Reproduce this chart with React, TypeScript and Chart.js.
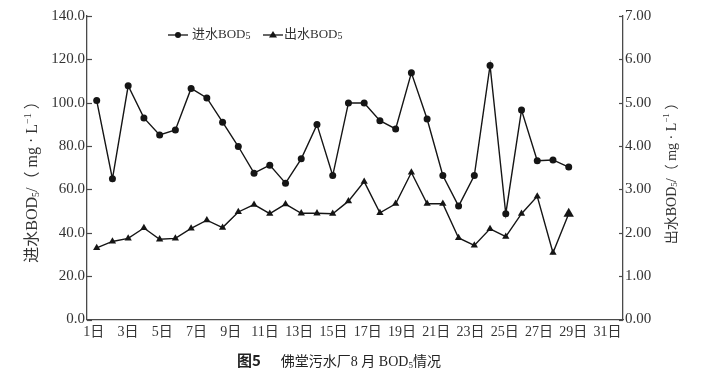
import React, { useEffect, useRef } from "react";
import { Chart, registerables } from "chart.js";

Chart.register(...registerables);

// ---- data ----
const days = [1, 2, 3, 4, 5, 6, 7, 8, 9, 10, 11, 12, 13, 14, 15, 16, 17, 18, 19, 20, 21, 22, 23, 24, 25, 26, 27, 28, 29, 30, 31];
const inflowBOD = [101.0, 64.9, 107.8, 93.0, 85.1, 87.4, 106.6, 102.2, 91.0, 79.8, 67.5, 71.2, 62.9, 74.1, 89.9, 66.4, 99.9, 99.9, 91.7, 87.9, 113.8, 92.5, 66.4, 52.3, 66.4, 117.2, 48.8, 96.6, 73.2, 73.6, 70.3];
const outflowBOD = [1.65, 1.80, 1.87, 2.11, 1.85, 1.87, 2.10, 2.29, 2.12, 2.48, 2.65, 2.44, 2.66, 2.45, 2.45, 2.44, 2.73, 3.18, 2.46, 2.67, 3.39, 2.67, 2.67, 1.88, 1.71, 2.09, 1.91, 2.44, 2.84, 1.54, 2.44];
const dayTickLabels = [1, 3, 5, 7, 9, 11, 13, 15, 17, 19, 21, 23, 25, 27, 29, 31];
const seriesNames = ["进水BOD", "出水BOD"];

const SERIF = "'Liberation Serif', 'Noto Sans CJK SC', serif";
const AXIS = "#4a4a4a";
const TEXT = "#333333";
const LINE = "#151515";

type Run = { t: string; size: number; dy?: number };

function drawRuns(ctx: CanvasRenderingContext2D, runs: Run[], x: number, y: number, align: "left" | "center") {
  let total = 0;
  const widths = runs.map((r) => {
    ctx.font = `${r.size}px ${SERIF}`;
    const w = ctx.measureText(r.t).width;
    total += w;
    return w;
  });
  let cx = align === "center" ? x - total / 2 : x;
  ctx.textBaseline = "middle";
  ctx.textAlign = "left";
  runs.forEach((r, i) => {
    ctx.font = `${r.size}px ${SERIF}`;
    ctx.fillText(r.t, cx, y + (r.dy || 0));
    cx += widths[i];
  });
}

export default function App() {
  const ref = useRef<HTMLCanvasElement>(null);

  useEffect(() => {
    document.body.style.margin = "0";
    const canvas = ref.current;
    if (!canvas) return;

    const decorations = {
      id: "decorations",
      afterDraw(chart: any) {
        const { ctx, chartArea } = chart;
        ctx.save();
        // inward tick marks
        ctx.strokeStyle = AXIS;
        ctx.lineWidth = 1.2;
        const yl = chart.scales.y;
        yl.ticks.forEach((t: any) => {
          const py = Math.round(yl.getPixelForValue(t.value)) + 0.5;
          ctx.beginPath();
          ctx.moveTo(chartArea.left, py);
          ctx.lineTo(chartArea.left + 5, py);
          ctx.stroke();
        });
        const yr = chart.scales.y1;
        yr.ticks.forEach((t: any) => {
          const py = Math.round(yr.getPixelForValue(t.value)) + 0.5;
          ctx.beginPath();
          ctx.moveTo(chartArea.right - 4, py);
          ctx.lineTo(chartArea.right, py);
          ctx.stroke();
        });

        // axis titles (rotated, reading bottom to top)
        ctx.fillStyle = TEXT;
        ctx.save();
        ctx.translate(33, 178);
        ctx.rotate(-Math.PI / 2);
        drawRuns(ctx, [
          { t: "进水BOD", size: 16 },
          { t: "5", size: 10, dy: 3 },
          { t: "/（ mg · L", size: 16 },
          { t: "−1", size: 10, dy: -5 },
          { t: " ）", size: 16 },
        ], 0, 0, "center");
        ctx.restore();

        ctx.save();
        ctx.translate(672, 170);
        ctx.rotate(-Math.PI / 2);
        drawRuns(ctx, [
          { t: "出水BOD", size: 14 },
          { t: "5", size: 9, dy: 3 },
          { t: "/（ mg · L", size: 14 },
          { t: "−1", size: 9, dy: -5 },
          { t: " ）", size: 14 },
        ], 0, 0, "center");
        ctx.restore();

        // legend
        const ly = 35;
        ctx.strokeStyle = LINE;
        ctx.fillStyle = LINE;
        ctx.lineWidth = 1.3;
        ctx.beginPath();
        ctx.moveTo(168, ly);
        ctx.lineTo(188, ly);
        ctx.stroke();
        ctx.beginPath();
        ctx.arc(178, ly, 3, 0, Math.PI * 2);
        ctx.fill();
        ctx.fillStyle = TEXT;
        drawRuns(ctx, [{ t: seriesNames[0], size: 13 }, { t: "5", size: 10, dy: 1 }], 192, ly, "left");

        ctx.strokeStyle = LINE;
        ctx.fillStyle = LINE;
        ctx.beginPath();
        ctx.moveTo(263, ly);
        ctx.lineTo(283, ly);
        ctx.stroke();
        ctx.beginPath();
        ctx.moveTo(273, ly - 4);
        ctx.lineTo(277, ly + 2.5);
        ctx.lineTo(269, ly + 2.5);
        ctx.closePath();
        ctx.fill();
        ctx.fillStyle = TEXT;
        drawRuns(ctx, [{ t: seriesNames[1], size: 13 }, { t: "5", size: 10, dy: 1 }], 284, ly, "left");
        ctx.restore();
      },
    };

    const tickFont = { family: SERIF, size: 15 };

    const chart = new Chart(canvas, {
      type: "line",
      data: {
        datasets: [
          {
            label: seriesNames[0] + "5",
            data: days.map((d, i) => ({ x: d, y: inflowBOD[i] })),
            xAxisID: "x",
            yAxisID: "y",
            borderColor: LINE,
            backgroundColor: LINE,
            borderWidth: 1.4,
            pointStyle: "circle",
            pointRadius: 3.5,
            pointBorderWidth: 0,
            tension: 0,
          },
          {
            label: seriesNames[1] + "5",
            data: days.map((d, i) => ({ x: d, y: outflowBOD[i] })),
            xAxisID: "x",
            yAxisID: "y1",
            borderColor: LINE,
            backgroundColor: LINE,
            borderWidth: 1.4,
            pointStyle: "triangle",
            pointRadius: (c: any) => (c.dataIndex === days.length - 1 ? 6 : 4.2),
            pointBorderWidth: 0,
            tension: 0,
          },
        ],
      },
      options: {
        animation: false,
        responsive: false,
        maintainAspectRatio: false,
        layout: { padding: { top: 16, left: 0, right: 0, bottom: 0 } },
        plugins: { legend: { display: false }, tooltip: { enabled: false }, title: { display: false } },
        scales: {
          x: {
            type: "linear",
            min: 0.383,
            max: 34.45,
            display: false,
          },
          xd: {
            type: "linear",
            position: "bottom",
            min: 0.6,
            max: 31.9,
            afterBuildTicks: (s: any) => {
              s.ticks = dayTickLabels.map((v) => ({ value: v }));
            },
            afterFit: (s: any) => {
              s.height = 54.5;
            },
            ticks: {
              autoSkip: false,
              maxRotation: 0,
              padding: 4,
              color: TEXT,
              font: { family: SERIF, size: 14 },
              callback: (v: any) => `${v}日`,
            },
            grid: { drawOnChartArea: false, drawTicks: false },
            border: { color: AXIS, width: 1.3 },
          },
          y: {
            position: "left",
            min: 0,
            max: 140,
            afterFit: (s: any) => {
              s.width = 87;
            },
            ticks: {
              stepSize: 20,
              padding: 2,
              color: TEXT,
              font: tickFont,
              callback: (v: any) => Number(v).toFixed(1),
            },
            grid: { drawOnChartArea: false, drawTicks: false },
            border: { color: AXIS, width: 1.3 },
          },
          y1: {
            position: "right",
            min: 0,
            max: 7,
            afterFit: (s: any) => {
              s.width = 93;
            },
            ticks: {
              stepSize: 1,
              padding: 2,
              color: TEXT,
              font: tickFont,
              callback: (v: any) => Number(v).toFixed(2),
            },
            grid: { drawOnChartArea: false, drawTicks: false },
            border: { color: AXIS, width: 1.3 },
          },
        },
      },
      plugins: [decorations],
    } as any);

    return () => chart.destroy();
  }, []);

  return (
    <div style={{ position: "relative", width: 716, height: 374, background: "#fff" }}>
      <canvas ref={ref} width={716} height={374} style={{ display: "block" }} />
      <div
        style={{
          position: "absolute",
          left: 237,
          top: 352,
          fontSize: 14,
          lineHeight: "16px",
          whiteSpace: "nowrap",
          color: "#222",
          fontFamily: SERIF,
        }}
      >
        <span style={{ fontFamily: "'Noto Sans CJK SC', 'Noto Sans', sans-serif", fontWeight: 700, fontSize: 15 }}>图5</span>
        <span style={{ display: "inline-block", width: 20 }} />
        <span>佛堂污水厂8 月 BOD<sub style={{ fontSize: 9, verticalAlign: "-2px" }}>5</sub>情况</span>
      </div>
    </div>
  );
}
